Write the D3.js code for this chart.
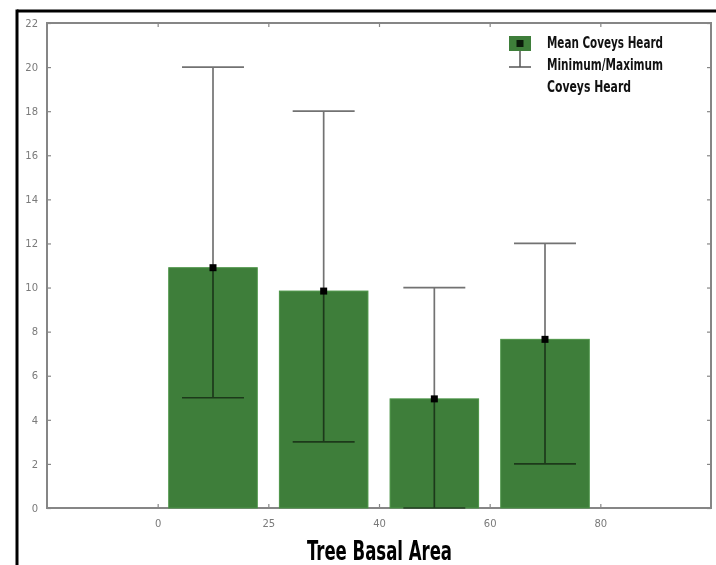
<!DOCTYPE html>
<html><head><meta charset="utf-8">
<script src="https://cdn.jsdelivr.net/npm/d3@7"></script>
<style>
html,body{margin:0;padding:0;background:#fff;}
svg{display:block;}
.tick text{font-family:"DejaVu Sans",sans-serif;}
</style></head>
<body>
<svg id="c" width="716" height="565"></svg>
<script>
const categories = ["0-25","25-40","40-60","60-80"];
const tickLabels = ["0","25","40","60","80"];
const meanCoveys = [10.9, 9.84, 4.95, 7.65];
const minCoveys = [5, 3, 0, 2];
const maxCoveys = [20, 18, 10, 12];
const yTicks = [0,2,4,6,8,10,12,14,16,18,20,22];

const svg = d3.select("#c");
const L = 47, R = 711, T = 23, B = 508;
const x = d3.scaleLinear().domain([-1, 5]).range([L, R]);
const y = d3.scaleLinear().domain([0, 22]).range([B, T]);

// outer frame (top and left edges visible)
svg.append("line").attr("x1",17).attr("x2",716).attr("y1",11).attr("y2",11).attr("stroke","#000").attr("stroke-width",3);
svg.append("line").attr("x1",17).attr("x2",17).attr("y1",9.5).attr("y2",565).attr("stroke","#000").attr("stroke-width",3);

const axisColor = "#868686";
function styleAxis(g){
  g.select(".domain").remove();
  g.selectAll(".tick line").attr("stroke",axisColor).attr("stroke-width",1.2);
  g.selectAll(".tick text").attr("fill","#7a7a7a").style("font-size","10px");
}
const gl = svg.append("g").attr("transform",`translate(${L},0)`)
  .call(d3.axisLeft(y).tickValues(yTicks).tickSizeInner(-4).tickSizeOuter(0).tickPadding(9).tickFormat(d3.format("d")));
styleAxis(gl);
const gr = svg.append("g").attr("transform",`translate(${R},0)`)
  .call(d3.axisRight(y).tickValues(yTicks).tickSizeInner(-4).tickSizeOuter(0).tickFormat(""));
styleAxis(gr);
const gb = svg.append("g").attr("transform",`translate(0,${B})`)
  .call(d3.axisBottom(x).tickValues([0,1,2,3,4]).tickSizeInner(-4).tickSizeOuter(0).tickPadding(12).tickFormat((d,i)=>tickLabels[i]));
styleAxis(gb);
const gt = svg.append("g").attr("transform",`translate(0,${T})`)
  .call(d3.axisTop(x).tickValues([0,1,2,3,4]).tickSizeInner(-4).tickSizeOuter(0).tickFormat(""));
styleAxis(gt);

// frame of plot
svg.append("rect").attr("x",L).attr("y",T).attr("width",R-L).attr("height",B-T)
  .attr("fill","none").attr("stroke",axisColor).attr("stroke-width",2);

// bars
const idx = d3.range(categories.length);
svg.append("g").selectAll("rect").data(idx).join("rect")
  .attr("x", i => x(i+0.1))
  .attr("width", i => x(i+0.9)-x(i+0.1))
  .attr("y", i => y(meanCoveys[i]))
  .attr("height", i => y(0)-y(meanCoveys[i]))
  .attr("fill","#3e7e3a").attr("stroke","#4b9446").attr("stroke-width",1);

// error bars
const eg = svg.append("g").style("mix-blend-mode","multiply");
const capHalf = (x(0.28)-x(0));
idx.forEach(i=>{
  const cx = x(i+0.5);
  eg.append("line").attr("x1",cx).attr("x2",cx).attr("y1",y(minCoveys[i])).attr("y2",y(maxCoveys[i]))
    .attr("stroke","#727272").attr("stroke-width",1.7);
  [minCoveys[i], maxCoveys[i]].forEach(v=>{
    eg.append("line").attr("x1",cx-capHalf).attr("x2",cx+capHalf).attr("y1",y(v)).attr("y2",y(v))
      .attr("stroke","#727272").attr("stroke-width",1.7);
  });
});
// mean markers
svg.append("g").selectAll("rect").data(idx).join("rect")
  .attr("x", i => x(i+0.5)-3.5).attr("y", i => y(meanCoveys[i])-3.5)
  .attr("width",7).attr("height",7).attr("fill","#000");

// legend
const lg = svg.append("g");
lg.append("rect").attr("x",509).attr("y",36).attr("width",22).attr("height",15).attr("fill","#3e7e3a");
lg.append("rect").attr("x",516.5).attr("y",40).attr("width",7).attr("height",7).attr("fill","#0a1a0a");
lg.append("line").attr("x1",520).attr("x2",520).attr("y1",51).attr("y2",67).attr("stroke","#555").attr("stroke-width",1.5);
lg.append("line").attr("x1",509).attr("x2",531).attr("y1",67).attr("y2",67).attr("stroke","#555").attr("stroke-width",1.5);
const legFont = '"Liberation Sans Narrow","DejaVu Sans Condensed","Roboto",sans-serif';
const legLines = [["Mean Coveys Heard",48,116],["Minimum/Maximum",70,116],["Coveys Heard",92,84]];
legLines.forEach(([t,yy,w])=>{
  lg.append("text").attr("x",547).attr("y",yy).text(t)
    .attr("font-family",legFont).attr("font-size",15).attr("font-weight","bold")
    .attr("textLength",w).attr("lengthAdjust","spacingAndGlyphs").attr("fill","#111");
});

// title
svg.append("text").attr("x",307).attr("y",560).text("Tree Basal Area")
  .attr("font-family",legFont).attr("font-size",27).attr("font-weight","bold")
  .attr("textLength",145).attr("lengthAdjust","spacingAndGlyphs").attr("fill","#000");
</script>
</body></html>
